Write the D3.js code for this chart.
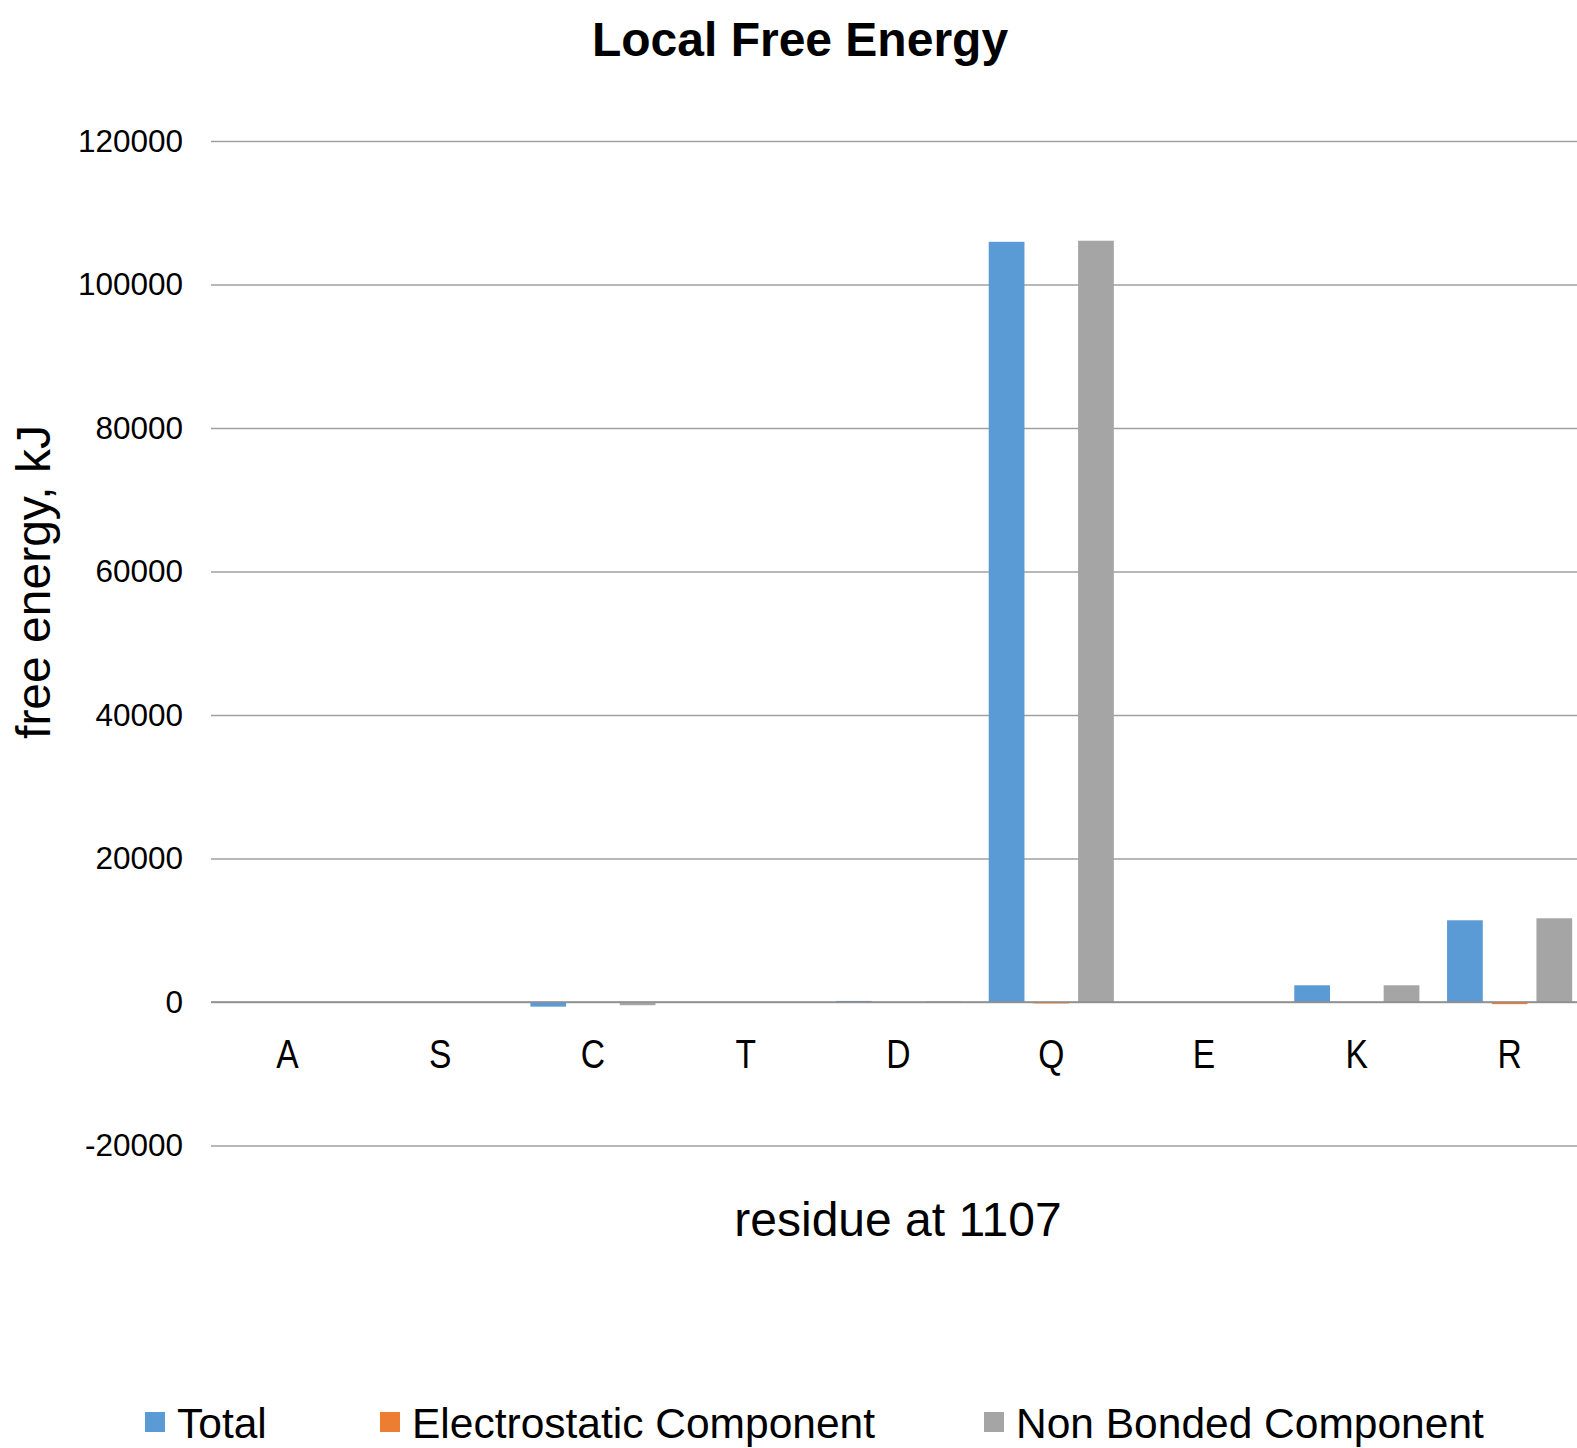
<!DOCTYPE html>
<html>
<head>
<meta charset="utf-8">
<script src="https://cdn.jsdelivr.net/npm/d3@7"></script>
<style>
  body { margin: 0; background: #fff; }
  text { font-family: "Liberation Sans", Arial, sans-serif; fill: #000; }
</style>
</head>
<body>
<div id="chart"></div>
<script>
// data
var residues = ["A", "S", "C", "T", "D", "Q", "E", "K", "R"];
var seriesNames = ["Total", "Electrostatic Component", "Non Bonded Component"];
var seriesColors = ["#5b9bd5", "#ed7d31", "#a5a5a5"];
var total = [0, 0, -650, 0, 150, 105950, 0, 2330, 11390];
var electrostatic = [0, 0, 0, 0, 0, -200, 0, 0, -300];
var nonBonded = [0, 0, -450, 0, 80, 106100, 0, 2330, 11670];
var yTicks = [-20000, 0, 20000, 40000, 60000, 80000, 100000, 120000];

var width = 1577, height = 1448;
var plotLeft = 211, plotRight = 1586, plotTop = 141, zeroY = 1002;

var series = [total, electrostatic, nonBonded];

var svg = d3.select("#chart").append("svg")
    .attr("width", width)
    .attr("height", height);

var y = d3.scaleLinear()
    .domain([0, 120000])
    .range([zeroY, plotTop]);

var x0 = d3.scaleBand()
    .domain(residues)
    .range([plotLeft, plotRight])
    .paddingInner(0.181)
    .paddingOuter(0.0905);

var x1 = d3.scaleBand()
    .domain(d3.range(3))
    .range([0, x0.bandwidth()])
    .paddingInner(0.2)
    .paddingOuter(0);

// grid lines + tick labels
var yAxis = d3.axisLeft(y)
    .tickValues(yTicks)
    .tickSize(-(plotRight - plotLeft))
    .tickPadding(28)
    .tickFormat(function(d) { return String(d); });

var gy = svg.append("g")
    .attr("transform", "translate(" + plotLeft + ",0)")
    .call(yAxis);
gy.select(".domain").remove();
gy.selectAll(".tick line").attr("stroke", "#a0a0a0").attr("stroke-width", 1.3);
gy.selectAll(".tick text")
    .attr("font-size", 31.5)
    .style("font-family", "'Liberation Sans', Arial, sans-serif")
    .attr("fill", "#000");

// bars
var groups = svg.append("g").selectAll("g")
    .data(residues)
    .enter().append("g")
    .attr("transform", function(d) { return "translate(" + x0(d) + ",0)"; });

groups.selectAll("rect")
    .data(function(d, i) { return series.map(function(s, k) { return {k: k, v: s[i]}; }); })
    .enter().append("rect")
    .attr("x", function(d) { return x1(d.k); })
    .attr("width", x1.bandwidth())
    .attr("y", function(d) { return y(Math.max(0, d.v)); })
    .attr("height", function(d) { return Math.abs(y(d.v) - y(0)); })
    .attr("fill", function(d) { return seriesColors[d.k]; });

// zero line on top
svg.append("line")
    .attr("x1", plotLeft).attr("x2", plotRight)
    .attr("y1", y(0)).attr("y2", y(0))
    .attr("stroke", "#8c8c8c").attr("stroke-width", 1.5);

// category labels (narrow face)
svg.append("g").selectAll("text")
    .data(residues)
    .enter().append("text")
    .attr("x", function(d) { return x0(d) + x0.bandwidth() / 2; })
    .attr("y", 1068)
    .attr("text-anchor", "middle")
    .attr("font-size", 41)
    .attr("transform", function(d) {
        var cx = x0(d) + x0.bandwidth() / 2;
        return "translate(" + cx + ",0) scale(0.82,1) translate(" + (-cx) + ",0)";
    })
    .style("font-family", "'Liberation Sans', Arial, sans-serif")
    .text(function(d) { return d; });

// title
svg.append("text")
    .attr("x", 800).attr("y", 56)
    .attr("text-anchor", "middle")
    .attr("font-size", 48)
    .attr("font-weight", "bold")
    .text("Local Free Energy");

// axis titles
svg.append("text")
    .attr("x", 898).attr("y", 1236)
    .attr("text-anchor", "middle")
    .attr("font-size", 48)
    .text("residue at 1107");

svg.append("text")
    .attr("transform", "translate(50,582) rotate(-90)")
    .attr("text-anchor", "middle")
    .attr("font-size", 48)
    .text("free energy, kJ");

// legend
var legendX = [145, 380, 984];
var legend = svg.append("g").selectAll("g")
    .data(seriesNames)
    .enter().append("g")
    .attr("transform", function(d, i) { return "translate(" + legendX[i] + ",1412)"; });

legend.append("rect")
    .attr("width", 20).attr("height", 20)
    .attr("fill", function(d, i) { return seriesColors[i]; });

legend.append("text")
    .attr("x", 32).attr("y", 26)
    .attr("font-size", 42.5)
    .text(function(d) { return d; });
</script>
</body>
</html>
